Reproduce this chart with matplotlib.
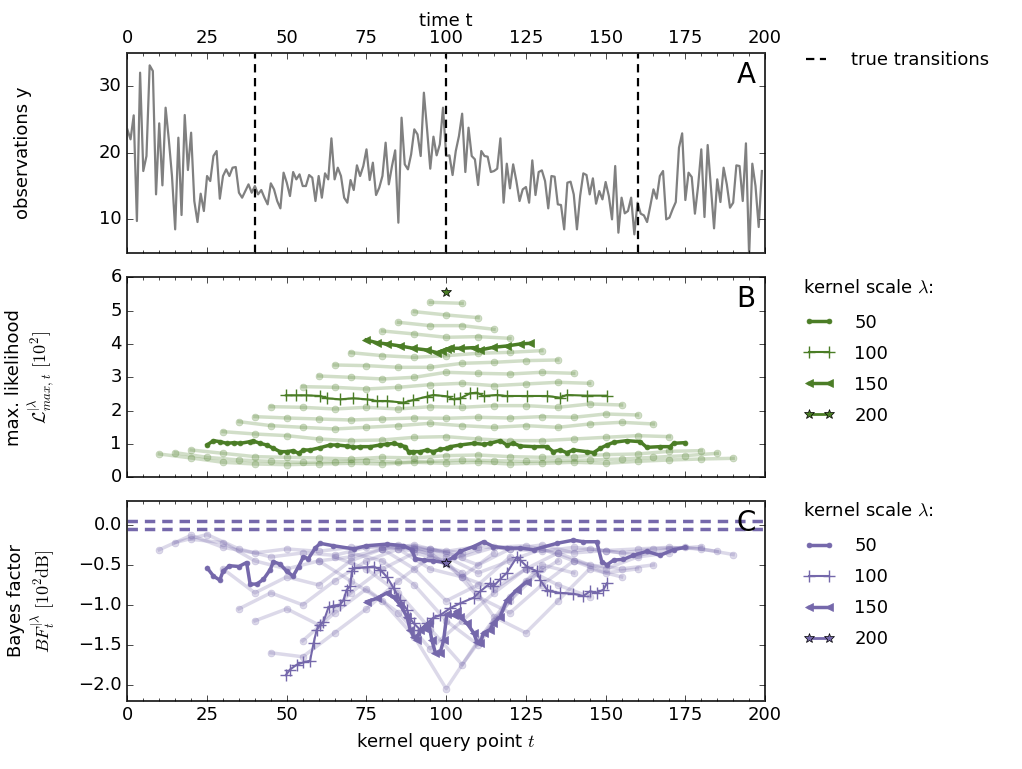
import numpy as np
import matplotlib
matplotlib.use('Agg')
import matplotlib.pyplot as plt
from matplotlib.ticker import MultipleLocator

plt.style.use('classic')
plt.rcParams['mathtext.fontset'] = 'cm'
plt.rcParams['font.family'] = ['DejaVu Sans']
plt.rcParams['axes.linewidth'] = 1.4
plt.rcParams['axes.edgecolor'] = '0.2'

# ---------------- data ----------------
obs_y = [23.5, 22, 25.6, 9.75, 32, 17.25, 19.5, 33.1, 32.25, 13.75,
         24.4, 15.1, 26.75, 22, 16.5, 8.5, 22.25, 10.65, 25.65, 17.4,
         23, 12.75, 9.6, 13.85, 11.25, 16.5, 15.75, 19.5, 20.25, 13.1,
         16.5, 17.5, 16.5, 17.75, 17.85, 14, 13.25, 14.25, 15.25, 14,
         15, 13.75, 14.4, 13.25, 12.25, 15.4, 14.5, 12.75, 11.65, 17,
         15.5, 13.5, 17.1, 16, 16.75, 15, 15, 16.65, 16.25, 12.75,
         16.5, 13.25, 16.9, 16, 22.15, 16, 17.75, 16.5, 13.25, 12.5,
         15.9, 14.4, 18.1, 16.5, 18, 20.5, 15.9, 18.5, 13.65, 14.75,
         16.5, 21.5, 15.25, 18, 20.35, 9.5, 25.25, 18.25, 17.5, 19.75,
         23.5, 22.75, 19.5, 29, 23.5, 17.6, 22.4, 19.6, 21.25, 26.75,
         19.5, 19.6, 16.65, 20.25, 22.5, 25.85, 17.1, 23.75, 19.5, 19,
         15.15, 20.25, 19.5, 19.4, 17.1, 17.25, 17.6, 22.15, 12.5, 18.35,
         14.65, 18.25, 15.75, 12.75, 14.5, 14.85, 12.5, 18.85, 13.65, 17.1,
         17.35, 15.75, 11.65, 16.5, 16.4, 12.25, 12.15, 8.5, 15.5, 15.65,
         13.75, 8.5, 13.5, 16.9, 16.65, 13.75, 16.15, 12.35, 14.25, 13,
         15.6, 13.5, 10, 18, 8, 13.25, 10.9, 11.25, 13.25, 7.75,
         12.5, 10.85, 10.6, 9.6, 12, 14.5, 13.1, 16.5, 17.25, 10,
         10.25, 11.5, 12.6, 20.75, 22.9, 12.9, 17, 16.35, 10.85, 15,
         20.5, 10.35, 21.15, 15, 8.65, 16, 12.6, 17.75, 15.25, 11.75,
         12.5, 18.1, 18, 12.75, 21.4, 4.5, 18.35, 15, 8.85, 17.25]
transitions = [40, 100, 160]

# faint kernel scales, sampled every 10 time steps from lam/2 to 200-lam/2
faint_lams = [20, 30, 40, 60, 70, 80, 90, 110, 120, 130, 140, 160, 170, 180, 190]
faint_B = [
    [0.70, 0.58, 0.45, 0.40, 0.38, 0.40, 0.42, 0.40, 0.45, 0.42, 0.45, 0.40, 0.42, 0.45, 0.42, 0.48, 0.52, 0.55, 0.57],
    [0.74, 0.60, 0.52, 0.48, 0.45, 0.47, 0.50, 0.45, 0.48, 0.52, 0.50, 0.48, 0.50, 0.52, 0.55, 0.60, 0.65, 0.72],
    [0.82, 0.72, 0.62, 0.60, 0.58, 0.55, 0.60, 0.58, 0.65, 0.67, 0.62, 0.60, 0.62, 0.68, 0.70, 0.78, 0.80],
    [1.37, 1.30, 1.25, 1.15, 1.10, 1.12, 1.20, 1.22, 1.15, 1.10, 1.10, 1.15, 1.20, 1.25, 1.22],
    [1.67, 1.55, 1.50, 1.45, 1.50, 1.55, 1.62, 1.55, 1.50, 1.55, 1.50, 1.60, 1.65, 1.60],
    [1.82, 1.78, 1.75, 1.72, 1.75, 1.78, 1.77, 1.80, 1.78, 1.82, 1.80, 1.90, 1.87],
    [2.12, 2.10, 2.05, 2.10, 2.05, 2.12, 2.10, 2.15, 2.15, 2.10, 2.20, 2.17],
    [2.72, 2.70, 2.65, 2.70, 2.78, 2.82, 2.75, 2.80, 2.85, 2.82],
    [3.04, 3.00, 2.95, 3.00, 3.15, 3.12, 3.10, 3.15, 3.12],
    [3.37, 3.35, 3.30, 3.30, 3.42, 3.45, 3.50, 3.52],
    [3.74, 3.65, 3.60, 3.65, 3.72, 3.75, 3.80],
    [4.39, 4.30, 4.20, 4.22, 4.17],
    [4.65, 4.55, 4.55, 4.44],
    [4.97, 4.87, 4.79],
    [5.25, 5.22],
]
faint_C = [
    [-0.31, -0.13, -0.28, -0.35, -0.30, -0.33, -0.28, -0.27, -0.30, -0.33, -0.27, -0.30, -0.33, -0.28, -0.32, -0.30, -0.28, -0.30, -0.37],
    [-0.22, -0.12, -0.30, -0.40, -0.35, -0.38, -0.28, -0.25, -0.30, -0.40, -0.28, -0.26, -0.35, -0.30, -0.35, -0.30, -0.28, -0.33],
    [-0.18, -0.22, -0.45, -0.55, -0.45, -0.40, -0.30, -0.25, -0.35, -0.50, -0.30, -0.25, -0.35, -0.32, -0.38, -0.30, -0.27],
    [-0.55, -0.85, -0.65, -0.75, -0.45, -0.30, -0.27, -0.40, -0.60, -0.45, -0.30, -0.45, -0.55, -0.40, -0.35],
    [-1.05, -0.85, -1.00, -0.70, -0.45, -0.30, -0.35, -0.65, -0.80, -0.55, -0.35, -0.50, -0.55, -0.50],
    [-1.20, -1.05, -1.25, -0.85, -0.55, -0.35, -0.45, -0.90, -1.10, -0.75, -0.45, -0.60, -0.55],
    [-1.60, -1.65, -1.35, -1.05, -0.70, -0.40, -0.60, -1.15, -1.35, -0.95, -0.55, -0.65],
    [-1.45, -1.10, -0.80, -1.10, -1.55, -1.20, -0.85, -0.55, -0.75, -0.90],
    [-0.45, -0.70, -0.95, -1.40, -2.05, -1.45, -0.90, -0.50, -0.60],
    [-0.40, -0.55, -0.85, -1.30, -1.75, -1.20, -0.70, -0.45],
    [-0.35, -0.45, -0.75, -1.20, -1.50, -0.95, -0.55],
    [-0.30, -0.55, -0.95, -0.75, -0.40],
    [-0.30, -0.55, -0.65, -0.35],
    [-0.30, -0.45, -0.30],
    [-0.30, -0.35],
]

# highlighted kernel scales, panel B
b50_t = [25, 27, 29, 31.2, 33.5, 35.4, 38.5, 39.5, 41.6, 43.7, 45.8, 47.9, 50, 52, 53.7, 55.2, 57.3, 60.5,
         63.6, 65.7, 68.8, 70.9, 73, 76.2, 79.3, 81.4, 83.5, 85.6, 87.1, 88.2, 89.7, 91.8, 93.9, 96, 98.1,
         100.2, 101.3, 104.4, 108.6, 111.7, 113.8, 116.9, 119, 121.1, 123.2, 127.4, 131.6, 133.6, 135.7,
         137.8, 139.9, 144.1, 146.2, 148.3, 150.4, 152.5, 156.6, 160.8, 162.9, 167.1, 170.2, 171.3, 174.9]
b50_v = [0.97, 1.10, 1.07, 1.02, 1.04, 1.02, 1.07, 1.09, 1.02, 0.97, 0.87, 0.77, 0.77, 0.80, 0.72, 0.82, 0.82, 0.89,
         0.97, 0.97, 0.94, 0.90, 0.92, 0.92, 0.97, 0.99, 1.02, 0.97, 0.92, 0.77, 0.77, 0.77, 0.82, 0.77, 0.84,
         0.87, 0.92, 0.97, 1.02, 0.99, 1.02, 1.10, 0.97, 1.02, 0.94, 0.92, 0.92, 0.77, 0.82,
         0.74, 0.82, 0.77, 0.74, 0.87, 0.97, 1.05, 1.10, 1.07, 0.90, 0.92, 0.92, 1.02, 1.04]
b100_t = [49.7, 53, 56, 60.5, 62.6, 66.7, 70.9, 75.1, 78.2, 81.4, 86.6, 89.7, 93.9, 96, 100.2,
          102.3, 104.4, 107.5, 109.6, 111.7, 115.9, 119, 125.3, 131.6, 135.7, 137.8, 144.1, 150.4]
b100_v = [2.46, 2.46, 2.46, 2.44, 2.37, 2.34, 2.37, 2.34, 2.29, 2.29, 2.24, 2.32, 2.42, 2.47, 2.43,
          2.34, 2.37, 2.52, 2.54, 2.44, 2.47, 2.44, 2.44, 2.44, 2.39, 2.47, 2.45, 2.45]
b150_t = [74.9, 78.2, 81.4, 85.6, 89.7, 93.9, 97.1, 98.6, 100.2, 101.3, 104.4, 108.6, 110.7, 114.8, 119, 123.2, 126.3]
b150_v = [4.12, 4.04, 4.00, 3.94, 3.87, 3.82, 3.74, 3.79, 3.85, 3.87, 3.87, 3.89, 3.82, 3.90, 3.94, 4.00, 4.02]
b200_t = [100]
b200_v = [5.55]

# highlighted kernel scales, panel C
c50_t = [25.1, 27, 29, 30, 32, 35, 37.4, 38.5, 40.6, 42.7, 44.8, 45.8, 47.9, 50, 52, 53.7, 55.2, 56.8,
         58.9, 60.5, 64.6, 71, 75, 81.4, 86.6, 89.2, 90.3, 92.9, 96, 99.7, 102.3, 104.4, 108.6, 111.7,
         114.8, 119, 123.2, 127.4, 134.7, 139.9, 143, 147.2, 148.8, 150.4, 152.5, 155.6, 158.7, 162.9,
         167, 171.3, 174.9]
c50_v = [-0.54, -0.64, -0.69, -0.58, -0.51, -0.52, -0.47, -0.74, -0.74, -0.68, -0.56, -0.46, -0.49, -0.58,
         -0.64, -0.52, -0.40, -0.42, -0.29, -0.23, -0.26, -0.30, -0.26, -0.24, -0.26, -0.31, -0.42, -0.44,
         -0.45, -0.47, -0.40, -0.33, -0.27, -0.21, -0.27, -0.29, -0.29, -0.31, -0.23, -0.19, -0.21, -0.21,
         -0.46, -0.50, -0.44, -0.43, -0.38, -0.33, -0.38, -0.31, -0.28]
c100_t = [49.7, 51, 53.1, 55.2, 57.3, 58.4, 59.4, 60.5, 61.5, 63.1, 64.6, 66.7, 67.8, 68.8, 69.9, 70.4,
          71, 75.1, 77.2, 79.3, 81.4, 83.5, 85.6, 87.7, 88.7, 89.8, 91.8, 93.9, 96, 98.1, 101.3, 104.4,
          108.6, 110.7, 113.8, 114.8, 116.9, 119, 122.2, 123.2, 125.3, 128.4, 129.5, 131.6, 132.6, 135.7,
          139.9, 143, 145.1, 147.2, 149.3, 150.4]
c100_v = [-1.88, -1.81, -1.75, -1.72, -1.70, -1.48, -1.31, -1.25, -1.21, -1.03, -1.01, -1.00, -0.94, -0.81,
          -0.77, -0.58, -0.54, -0.53, -0.52, -0.56, -0.65, -0.79, -0.94, -1.06, -1.17, -1.23, -1.31, -1.23,
          -1.16, -1.13, -1.04, -0.98, -0.91, -0.83, -0.73, -0.77, -0.68, -0.60, -0.40, -0.44, -0.52, -0.58,
          -0.69, -0.81, -0.83, -0.85, -0.86, -0.89, -0.83, -0.85, -0.81, -0.73]
c150_t = [75.1, 78.2, 81.4, 83.5, 85.6, 87.7, 88.7, 89.8, 90.8, 91.8, 92.9, 94.5, 95.5, 96.6, 98.1, 99.2,
          100.2, 102.3, 103.3, 104.4, 106.5, 108.6, 109.6, 110.7, 111.7, 113.8, 114.8, 116.9, 119, 122.2,
          125.3]
c150_v = [-0.96, -0.92, -0.85, -0.90, -1.00, -1.15, -1.31, -1.40, -1.44, -1.31, -1.29, -1.23, -1.44, -1.60,
          -1.60, -1.44, -1.12, -1.13, -1.08, -1.15, -1.23, -1.35, -1.46, -1.48, -1.35, -1.31, -1.23, -1.15,
          -0.94, -0.81, -0.71]
c200_t = [100]
c200_v = [-0.47]
c_band = [0.05, -0.05]

green = '#4b7d26'
purple = '#7568ab'

# ---------------- figure ----------------
fig = plt.figure(figsize=(10.22, 7.69), dpi=100, facecolor='white')
left, width = 0.1246, 0.624
axA = fig.add_axes([left, 0.6714, width, 0.2601])
axB = fig.add_axes([left, 0.3793, width, 0.2601])
axC = fig.add_axes([left, 0.0888, width, 0.2597])

for ax in (axA, axB, axC):
    ax.set_xlim(0, 200)
    ax.xaxis.set_major_locator(MultipleLocator(25))
    ax.xaxis.set_minor_locator(MultipleLocator(5))
    ax.tick_params(axis='both', which='major', labelsize=13)

# panel A
axA.plot(np.arange(len(obs_y)), obs_y, color='0.5', lw=1.6)
for i, tr in enumerate(transitions):
    axA.axvline(tr, color='k', ls='--', lw=1.6, dashes=(6, 4),
                label='true transitions' if i == 0 else None)
axA.set_ylim(5, 35)
axA.set_yticks([10, 20, 30])
axA.tick_params(labeltop=True, labelbottom=False)
axA.xaxis.set_label_position('top')
axA.set_xlabel('time t', fontsize=13, labelpad=2)
axA.set_ylabel('observations y', fontsize=13)
axA.text(0.985, 0.96, 'A', transform=axA.transAxes, ha='right', va='top', fontsize=20)
axA.legend(loc='upper left', bbox_to_anchor=(1.03, 1.09), frameon=False, fontsize=13,
           numpoints=2, handlelength=1.7, handletextpad=1.1)

# panels B and C
def draw_panel(ax, faint, col, t50, v50, t100, v100, t150, v150, t200, v200):
    for lam, vals in zip(faint_lams, faint):
        tt = np.arange(lam / 2, 200 - lam / 2 + 1, 10)
        ax.plot(tt, vals, color=col, alpha=0.25, lw=2.5, marker='o', ms=5, mec=col)
    ax.plot(t50, v50, color=col, lw=2.5, marker='.', ms=7, mec=col, label='50')
    ax.plot(t100, v100, color=col, lw=1.5, marker='+', ms=9, mew=1.0, mec=col, label='100')
    ax.plot(t150, v150, color=col, lw=2.5, marker='<', ms=6, mec=col, label='150')
    ax.plot(t200, v200, color=col, lw=2.0, marker='*', ms=7, mec='k', label='200')
    ax.text(1.06, 0.95, 'kernel scale $\\lambda$:', transform=ax.transAxes,
            ha='left', va='center', fontsize=13)
    ax.legend(loc='upper left', bbox_to_anchor=(1.035, 0.90), frameon=False, fontsize=13,
              numpoints=2, handlelength=1.7, handletextpad=1.1, labelspacing=0.72)

draw_panel(axB, faint_B, green, b50_t, b50_v, b100_t, b100_v, b150_t, b150_v, b200_t, b200_v)
axB.set_ylim(0, 6)
axB.set_yticks(range(0, 7))
axB.tick_params(labelbottom=False)
axB.set_ylabel('max. likelihood\n$\\mathcal{L}^{|\\lambda}_{max,\\,t}\\ [10^2]$', fontsize=13)
axB.text(0.985, 0.96, 'B', transform=axB.transAxes, ha='right', va='top', fontsize=20)

for yb in c_band:
    axC.axhline(yb, color=purple, ls='--', lw=2.5, dashes=(7.5, 5))
draw_panel(axC, faint_C, purple, c50_t, c50_v, c100_t, c100_v, c150_t, c150_v, c200_t, c200_v)
axC.set_ylim(-2.2, 0.3)
axC.yaxis.set_major_locator(MultipleLocator(0.5))
axC.set_xlabel('kernel query point $t$', fontsize=13)
axC.set_ylabel('Bayes factor\n$BF^{|\\lambda}_t\\ [10^2\\mathrm{dB}]$', fontsize=13)
axC.text(0.985, 0.96, 'C', transform=axC.transAxes, ha='right', va='top', fontsize=20)

axA.yaxis.set_label_coords(-0.15, 0.5)
axB.yaxis.set_label_coords(-0.11, 0.5)
axC.yaxis.set_label_coords(-0.11, 0.5)

fig.savefig('out.png', dpi=100, facecolor='white')
